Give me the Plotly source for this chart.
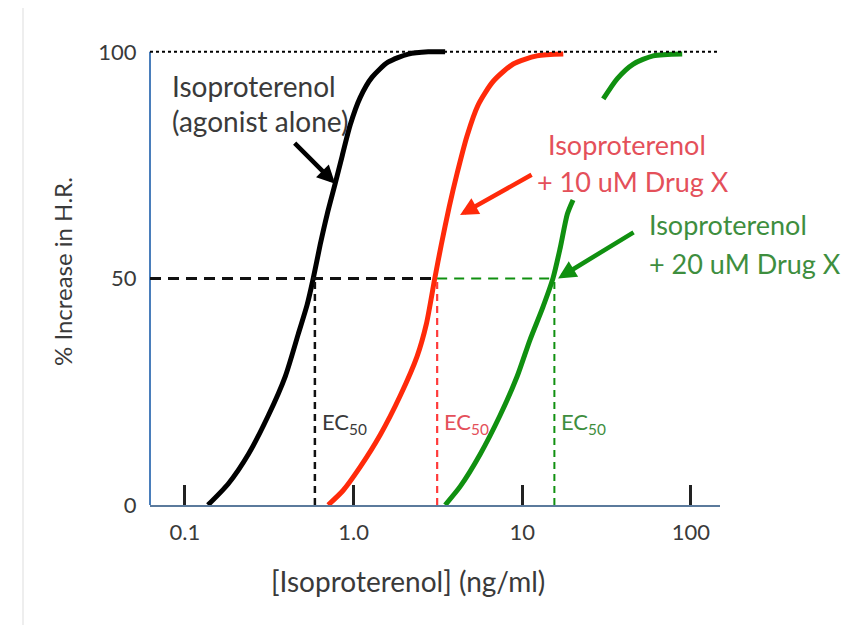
import math
import plotly.graph_objects as go

# ---- data ----
black_x = [0.137, 0.181, 0.238, 0.313, 0.394, 0.470, 0.531, 0.577, 0.634, 0.698, 0.778, 0.856, 0.954, 1.094, 1.288, 1.60, 2.11, 2.77, 3.49]
black_y = [0, 4.7, 11.2, 19.8, 28.4, 37.7, 44.2, 50, 57.4, 64.2, 70.9, 77.0, 83.8, 89.9, 94.4, 97.7, 99.5, 100, 100]

red_x = [0.707, 0.867, 1.095, 1.44, 1.89, 2.38, 2.70, 3.03, 3.31, 3.69, 4.11, 4.71, 5.48, 6.73, 8.84, 12.2, 17.5]
red_y = [0, 3.2, 8.4, 15.5, 24.1, 32.8, 39.9, 50, 57.4, 65.8, 73.2, 81.5, 88.3, 93.5, 97.3, 99.1, 99.5]

green_x = [3.49, 4.29, 5.63, 7.39, 9.33, 11.1, 13.2, 15.2, 16.8, 18.5, 20.0, None, 30.2, 36.6, 45.5, 59.7, 88.7]
green_y = [0, 4.1, 11.2, 19.8, 28.4, 36.4, 43.5, 50, 56.8, 64.2, 67.3, None, 89.6, 94.1, 97.3, 99.1, 99.5]

ec50 = [0.59, 3.13, 15.5]
half_response = 50
max_response = 100

x_tickvals = [0.1, 1, 10, 100]
x_ticktext = ["0.1", "1.0", "10", "100"]
y_tickvals = [0, 50, 100]
y_ticktext = ["0", "50", "100"]

# ---- layout geometry (page body has an 8px margin) ----
OFF = 8
W, H = 853, 619
L, R, T, B = 142, 141, 37, 122
PW, PH = W - L - R, H - T - B
X_RANGE = [-1.2065, 2.172]
Y_RANGE = [0, 101.5]

def px(xw):
    return (xw - OFF - L) / PW

def py(yw):
    return (H - B - (yw - OFF)) / PH

BLACK = "#000000"
RED = "#ff2a0a"
GREEN = "#109010"
RED_TXT = "#e4505a"
GREEN_TXT = "#3e8e3e"
TXT = "#3a3a3a"
FONT = "Lato"

fig = go.Figure()
for xs, ys, c in [(black_x, black_y, BLACK), (red_x, red_y, RED), (green_x, green_y, GREEN)]:
    fig.add_trace(go.Scatter(x=xs, y=ys, mode="lines", hoverinfo="skip", connectgaps=False,
                             line=dict(color=c, width=5, shape="spline", smoothing=0.7)))

shapes = []
shapes.append(dict(type="line", xref="paper", yref="y", x0=0, x1=0, y0=0, y1=max_response,
                   line=dict(color="#4a7ebb", width=2)))
shapes.append(dict(type="line", xref="paper", yref="y", x0=0, x1=1, y0=max_response, y1=max_response,
                   line=dict(color=BLACK, width=2, dash="dot")))
shapes.append(dict(type="line", xref="x", yref="y", x0=10 ** X_RANGE[0], x1=ec50[1], y0=half_response, y1=half_response,
                   line=dict(color="#111111", width=3, dash="11px,7px")))
shapes.append(dict(type="line", xref="x", yref="y", x0=ec50[1], x1=ec50[2], y0=half_response, y1=half_response,
                   line=dict(color=GREEN, width=2, dash="10px,7px")))
for xv, c, w in zip(ec50, ["#111111", "#ff3a3a", GREEN], [2.5, 2.2, 2]):
    shapes.append(dict(type="line", xref="x", yref="y", x0=xv, x1=xv, y0=0, y1=half_response,
                       line=dict(color=c, width=w, dash="7px,5px")))
shapes.append(dict(type="line", xref="paper", yref="paper", x0=px(23), x1=px(23), y0=py(8), y1=py(625),
                   line=dict(color="#eeeeee", width=2)))
shapes.append(dict(type="line", xref="paper", yref="paper", x0=px(857), x1=px(857), y0=py(8), y1=py(625),
                   line=dict(color="#eeeeee", width=2)))

ann = []
def text(xw, yw, s, color, size=27, xanchor="center"):
    ann.append(dict(xref="paper", yref="paper", x=px(xw), y=py(yw), text=s, showarrow=False,
                    xanchor=xanchor, yanchor="middle", font=dict(family=FONT, size=size, color=color)))

text(170, 86, "Isoproterenol", TXT, size=28, xanchor="left")
text(170, 121, "(agonist alone)", TXT, size=28, xanchor="left")
text(627, 144, "Isoproterenol", RED_TXT)
text(633, 182, "+ 10 uM Drug X", RED_TXT)
text(647, 225, "Isoproterenol", GREEN_TXT, xanchor="left")
text(647, 263, "+ 20 uM Drug X", GREEN_TXT, xanchor="left")

for xv, c in zip(ec50, [TXT, RED_TXT, GREEN_TXT]):
    ann.append(dict(xref="x", yref="y", x=math.log10(xv), y=18.1, xshift=5, text="EC<sub>50</sub>", showarrow=False,
                    xanchor="left", yanchor="middle", font=dict(family=FONT, size=22, color=c)))

def arrow(x, y, ax, ay, color):
    ann.append(dict(xref="x", yref="y", x=math.log10(x), y=y, ax=ax, ay=ay, text="", showarrow=True,
                    arrowhead=2, arrowsize=0.8, arrowwidth=4.5, arrowcolor=color, standoff=0))

arrow(0.778, 70.9, -42, -42, BLACK)
arrow(4.28, 64.0, 73, -41, RED)
arrow(16.3, 50.0, 77, -47, GREEN)

ann.append(dict(xref="paper", yref="paper", x=px(408), y=py(581), text="[Isoproterenol] (ng/ml)", showarrow=False,
                xanchor="center", yanchor="middle", font=dict(family=FONT, size=28, color=TXT)))
ann.append(dict(xref="paper", yref="paper", x=px(62), y=py(272), text="% Increase in H.R.", showarrow=False,
                textangle=-90, xanchor="center", yanchor="middle", font=dict(family=FONT, size=24, color=TXT)))

fig.update_layout(
    width=W, height=H, autosize=False,
    margin=dict(l=L, r=R, t=T, b=B, pad=0),
    paper_bgcolor="white", plot_bgcolor="white",
    showlegend=False, shapes=shapes, annotations=ann,
    xaxis=dict(type="log", range=X_RANGE, showgrid=False, zeroline=False,
               showline=True, linecolor="#5b7a9c", linewidth=2,
               ticks="inside", ticklen=20, tickwidth=2.5, tickcolor="#222222",
               tickvals=x_tickvals, ticktext=x_ticktext, ticklabelstandoff=7,
               tickfont=dict(family=FONT, size=22, color=TXT)),
    yaxis=dict(range=Y_RANGE, showgrid=False, zeroline=False, showline=False,
               ticks="outside", ticklen=8, tickcolor="rgba(0,0,0,0)",
               tickvals=y_tickvals, ticktext=y_ticktext,
               tickfont=dict(family=FONT, size=22, color=TXT)),
)

fig.write_html("out.html")
